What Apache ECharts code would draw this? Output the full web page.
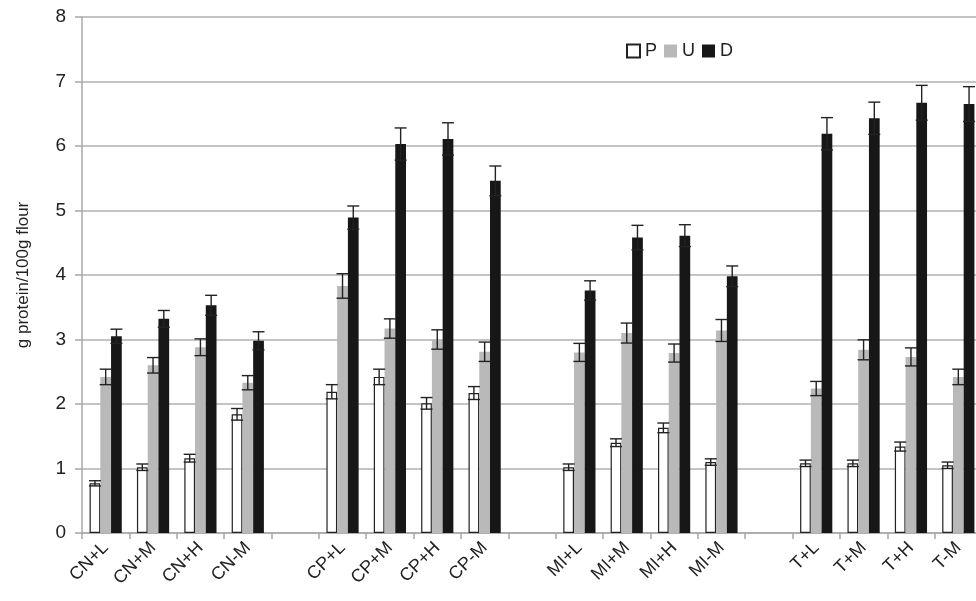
<!DOCTYPE html>
<html>
<head>
<meta charset="utf-8">
<script src="https://cdn.jsdelivr.net/npm/echarts@6/dist/echarts.min.js"></script>
<style>
  html, body { margin: 0; padding: 0; background: #fff; }
  #chart { width: 976px; height: 601px; }
</style>
</head>
<body>
<div id="chart"></div>
<script>
// categories, '' = empty slot between groups
var categories = ['CN+L', 'CN+M', 'CN+H', 'CN-M', '',
    'CP+L', 'CP+M', 'CP+H', 'CP-M', '',
    'MI+L', 'MI+M', 'MI+H', 'MI-M', '',
    'T+L', 'T+M', 'T+H', 'T-M'];

var pVals = [0.77, 1.02, 1.16, 1.84, null, 2.19, 2.42, 2.01, 2.17, null, 1.02, 1.40, 1.63, 1.10, null, 1.08, 1.08, 1.34, 1.05];
var pErr  = [0.04, 0.05, 0.06, 0.09, null, 0.11, 0.12, 0.09, 0.10, null, 0.05, 0.06, 0.075, 0.05, null, 0.05, 0.05, 0.07, 0.05];
var uVals = [2.42, 2.60, 2.88, 2.33, null, 3.83, 3.17, 3.00, 2.81, null, 2.80, 3.10, 2.79, 3.14, null, 2.24, 2.84, 2.73, 2.42];
var uErr  = [0.12, 0.12, 0.13, 0.11, null, 0.19, 0.15, 0.15, 0.15, null, 0.14, 0.155, 0.14, 0.17, null, 0.11, 0.155, 0.14, 0.12];
var dVals = [3.05, 3.32, 3.53, 2.98, null, 4.89, 6.03, 6.11, 5.46, null, 3.76, 4.58, 4.61, 3.98, null, 6.19, 6.43, 6.67, 6.65];
var dErr  = [0.11, 0.13, 0.155, 0.14, null, 0.18, 0.25, 0.25, 0.23, null, 0.15, 0.19, 0.17, 0.16, null, 0.25, 0.25, 0.27, 0.27];

var yTicks = [0, 1, 2, 3, 4, 5, 6, 7, 8];

var catGap = 0.32;   // same as barCategoryGap below
var font = 'Liberation Sans, Arial, sans-serif';

// error bar series, k = position of the bar in the group (0,1,2)
function errSeries(vals, errs, k) {
    var data = [];
    vals.forEach(function (v, i) {
        if (v != null) data.push([i, v, errs[i]]);
    });
    return {
        type: 'custom',
        data: data,
        z: 10,
        silent: true,
        clip: false,
        encode: { x: 0, y: 1 },
        renderItem: function (params, api) {
            var idx = api.value(0), v = api.value(1), e = api.value(2);
            var band = api.size([1, 0])[0];
            var bw = band * (1 - catGap) / 3;
            var x = api.coord([idx, v])[0] + (k - 1) * bw;
            var top = api.coord([idx, v + e])[1];
            var bot = api.coord([idx, v - e])[1];
            var hw = 6;
            var st = { stroke: '#222', lineWidth: 1.4 };
            return {
                type: 'group',
                children: [
                    { type: 'line', shape: { x1: x, y1: top, x2: x, y2: bot }, style: st },
                    { type: 'line', shape: { x1: x - hw, y1: top, x2: x + hw, y2: top }, style: st },
                    { type: 'line', shape: { x1: x - hw, y1: bot, x2: x + hw, y2: bot }, style: st }
                ]
            };
        }
    };
}

var myChart = echarts.init(document.getElementById('chart'));

var option = {
    animation: false,
    backgroundColor: '#fff',
    grid: { left: 82, top: 17, width: 900, bottom: 68, outerBoundsMode: 'none', containLabel: false },
    legend: {
        data: ['P', 'U', 'D'],
        left: 621,
        top: 37,
        icon: 'rect',
        itemWidth: 13,
        itemHeight: 13,
        itemGap: 7,
        textStyle: { fontFamily: font, fontSize: 18, color: '#222' }
    },
    xAxis: {
        type: 'category',
        data: categories,
        axisLine: { lineStyle: { color: '#a8a8a8', width: 1.5 } },
        axisTick: { show: true, length: 6, lineStyle: { color: '#a8a8a8', width: 1.5 } },
        axisLabel: {
            interval: 0,
            rotate: 45,
            margin: 12,
            color: '#222',
            fontFamily: font,
            fontSize: 18
        }
    },
    yAxis: {
        type: 'value',
        min: yTicks[0],
        max: yTicks[yTicks.length - 1],
        interval: 1,
        name: 'g protein/100g flour',
        nameLocation: 'middle',
        nameGap: 50,
        nameTextStyle: { fontFamily: font, fontSize: 17, color: '#222' },
        axisLine: { show: true, lineStyle: { color: '#a8a8a8', width: 1.5 } },
        axisTick: { show: true, length: 7, lineStyle: { color: '#a8a8a8', width: 1.5 } },
        axisLabel: { margin: 16, color: '#222', fontFamily: font, fontSize: 19 },
        splitLine: { lineStyle: { color: '#b0b0b0', width: 1.5 } }
    },
    series: [
        {
            name: 'P', type: 'bar', data: pVals,
            barGap: 0, barCategoryGap: '32%',
            itemStyle: { color: '#fff', borderColor: '#222', borderWidth: 1.2 }
        },
        {
            name: 'U', type: 'bar', data: uVals,
            barGap: 0, barCategoryGap: '32%',
            itemStyle: { color: '#b9b9b9' }
        },
        {
            name: 'D', type: 'bar', data: dVals,
            barGap: 0, barCategoryGap: '32%',
            itemStyle: { color: '#171717' }
        },
        errSeries(pVals, pErr, 0),
        errSeries(uVals, uErr, 1),
        errSeries(dVals, dErr, 2)
    ]
};

myChart.setOption(option);
</script>
</body>
</html>
